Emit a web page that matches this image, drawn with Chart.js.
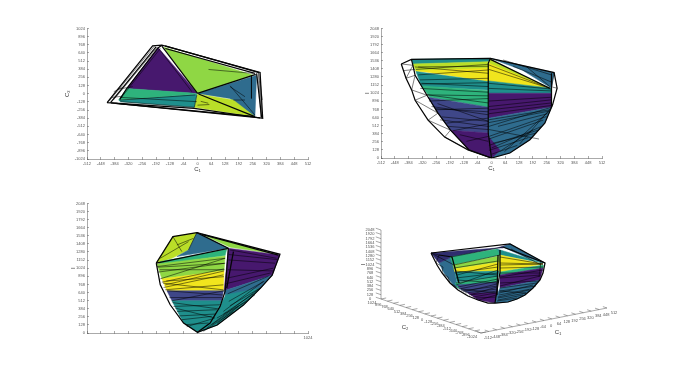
<!DOCTYPE html>
<html>
<head>
<meta charset="utf-8">
<script src="https://cdn.jsdelivr.net/npm/chart.js@4"></script>
<style>
    html, body { margin: 0; padding: 0; background: #fff; }
    canvas { position: absolute; filter: blur(0.25px); }
</style>
</head>
<body>
<canvas id="panelTop"></canvas>
<canvas id="panelFront"></canvas>
<canvas id="panelSide"></canvas>
<canvas id="panelIso"></canvas>
<script>
// tick values
const c1Ticks = [-512, -448, -384, -320, -256, -192, -128, -64, 0, 64, 128, 192, 256, 320, 384, 448, 512];
const c2Ticks = [-1024, -896, -768, -640, -512, -384, -256, -128, 0, 128, 256, 384, 512, 640, 768, 896, 1024];
const iTicks = [0, 128, 256, 384, 512, 640, 768, 896, 1024, 1152, 1280, 1408, 1536, 1664, 1792, 1920, 2048];

// top view, C1 against C2
const topFacets = [
    [[-182, 722], [-328, 81], [0, 5]],
    [[-158, 731], [259, 289], [0, 5]],
    [[0, 5], [274, 289], [266, -362], [150, -75]],
    [[0, -5], [166, -99], [266, -360], [-15, -214]],
    [[-365, -99], [-3, -5], [-15, -214], [-357, -125]],
    [[-328, 81], [-35, 13], [-3, -5], [-365, -99]]
];
const topHeavy = [
    [[-419, -141], [-208, 750], [-165, 761], [290, 333], [302, -386], [-15, -229], [-419, -141]],
    [[-403, -141], [-192, 735]],
    [[-165, 761], [-182, 722], [-328, 81], [-360, -89]],
    [[-149, 709], [266, 318]],
    [[-150, 750], [285, 330]],
    [[0, 5], [270, 302]],
    [[0, 5], [-165, 745]],
    [[5, -5], [266, -360]],
    [[-380, -151], [266, -360]],
    [[-400, -145], [290, -380]],
    [[274, 318], [297, -375]]
];
const topThin = [
    [[-360, -89], [-172, 709]],
    [[-410, -120], [-200, 745]],
    [[-390, -100], [-186, 730]],
    [[-388, 31], [-342, 109]],
    [[-400, -60], [-350, -40]],
    [[-370, 70], [-300, 110]],
    [[282, 328], [294, -375]],
    [[285, 330], [300, -380]],
    [[290, 200], [300, -100]],
    [[-357, -125], [-15, -214]],
    [[-360, -57], [-3, -125]],
    [[-360, -100], [-10, -20]],
    [[-3, -21], [-15, -214]],
    [[-180, 709], [-26, 31]],
    [[151, 125], [266, -334]],
    [[151, 109], [220, -47]],
    [[166, -99], [220, -99]],
    [[250, 290], [250, -75]],
    [[51, 380], [259, 318]],
    [[15, -120], [50, -150]],
    [[0, -180], [55, -170]]
];

// front view, C1 against I
const frontFacets = [
    [[-371, 1559], [-5, 1575], [-15, 1522], [-363, 1486]],
    [[-363, 1486], [-15, 1522], [-15, 1402], [-350, 1365]],
    [[-350, 1381], [-15, 1418], [-15, 1208]],
    [[-350, 1365], [-15, 1208], [-15, 1076], [-324, 1129]],
    [[-324, 1139], [-15, 1066], [-15, 803], [-286, 961]],
    [[-293, 961], [-15, 803], [-15, 394], [-190, 440], [-248, 709]],
    [[-190, 440], [-15, 394], [0, 0], [-105, 130]],
    [[-5, 1575], [290, 1349], [278, 1103], [142, 1391]],
    [[-5, 1559], [270, 1103], [-12, 1486]],
    [[-12, 1496], [270, 1103], [-12, 1218]],
    [[-12, 1218], [278, 1103], [278, 1024], [-12, 1024]],
    [[-12, 1024], [278, 1024], [278, 803], [-12, 630]],
    [[-12, 630], [278, 803], [247, 551], [178, 289], [85, 79], [0, 0], [-12, 394]],
    [[-12, 330], [40, 120], [0, 0]]
];
const frontHeavy = [
    [[-418, 1486], [-371, 1559], [-5, 1575], [290, 1349], [304, 1103], [283, 840], [247, 551], [178, 289], [85, 79], [0, 0]],
    [[-418, 1486], [-396, 1260], [-370, 1076], [-354, 913], [-294, 598], [-217, 330], [-109, 126], [0, 0]],
    [[-5, 1575], [-15, 1496], [-15, 394], [0, 0]],
    [[-371, 1559], [-364, 1465], [-354, 1307], [-299, 992], [-248, 709], [-190, 440], [-105, 130], [0, 0]],
    [[-5, 1559], [270, 1103]],
    [[278, 1339], [278, 803]]
];
const frontThin = [
    [[-418, 1486], [-364, 1465], [-396, 1260], [-354, 1307], [-370, 1076], [-299, 992], [-354, 913], [-248, 709], [-294, 598], [-190, 440], [-217, 330], [-105, 130]],
    [[-410, 1380], [-355, 1400]],
    [[-355, 1439], [-15, 1339]],
    [[-340, 1313], [-15, 1391]],
    [[-324, 1181], [-15, 1129]],
    [[-332, 1234], [-15, 1260]],
    [[-301, 998], [-15, 982]],
    [[-278, 814], [-15, 683]],
    [[-262, 761], [-15, 788]],
    [[-239, 604], [-15, 499]],
    [[-208, 551], [-15, 630]],
    [[-147, 368], [-15, 263]],
    [[-116, 263], [-15, 341]],
    [[-250, 860], [-15, 580]],
    [[-330, 1100], [-15, 1040]],
    [[-300, 1000], [-15, 870]],
    [[-290, 900], [-15, 940]],
    [[-260, 780], [-15, 730]],
    [[-230, 650], [-15, 580]],
    [[-200, 500], [-15, 450]],
    [[-180, 430], [-15, 540]],
    [[-340, 1440], [-15, 1450]],
    [[-350, 1400], [-15, 1480]],
    [[-330, 1170], [-15, 1190]],
    [[-12, 1470], [270, 1103]],
    [[-12, 1400], [270, 1103]],
    [[54, 1549], [278, 1313]],
    [[100, 1450], [278, 1200]],
    [[162, 1444], [270, 1129]],
    [[-12, 1180], [278, 1090]],
    [[-12, 1100], [278, 1060]],
    [[-12, 900], [278, 960]],
    [[-12, 760], [278, 870]],
    [[-12, 700], [278, 830]],
    [[-12, 560], [265, 740]],
    [[-12, 300], [240, 600]],
    [[-12, 200], [215, 440]],
    [[-12, 120], [170, 320]],
    [[0, 60], [120, 200]],
    [[60, 100], [270, 750]],
    [[130, 220], [278, 800]],
    [[-12, 604], [270, 761]],
    [[-12, 341], [255, 656]],
    [[-12, 500], [278, 803]],
    [[0, 158], [232, 499]],
    [[8, 236], [208, 394]],
    [[39, 105], [193, 446]],
    [[-12, 814], [278, 919]],
    [[-12, 450], [220, 300]],
    [[30, 500], [260, 700]],
    [[290, 1349], [278, 1103]],
    [[283, 1120], [304, 1103]]
];

// side view, C2 against I
const sideFacets = [
    [[40, 1559], [748, 1244], [302, 1355]],
    [[-382, 1103], [-228, 1523], [-6, 1586], [-83, 1313], [-237, 1181]],
    [[-6, 1586], [286, 1339], [-191, 1208], [-83, 1313]],
    [[-345, 1129], [271, 1323], [256, 1223], [-360, 1076]],
    [[-376, 1092], [256, 1218], [246, 982], [-330, 856]],
    [[-330, 856], [246, 982], [240, 667], [-283, 667]],
    [[-283, 667], [240, 667], [225, 509], [-237, 509]],
    [[-237, 509], [225, 509], [132, 184], [0, 10], [-129, 158]],
    [[286, 1339], [764, 1234], [692, 913], [246, 667]],
    [[246, 667], [692, 913], [584, 709], [262, 578]],
    [[262, 604], [584, 709], [426, 441], [183, 126], [0, 10], [132, 184]]
];
const sideHeavy = [
    [[-382, 1103], [-228, 1523], [-6, 1586], [764, 1244], [692, 913], [584, 709], [426, 441], [183, 126], [0, 10], [-129, 158], [-253, 446], [-345, 761], [-382, 1103]],
    [[286, 1339], [256, 656], [209, 420], [117, 158], [0, 10]],
    [[-6, 1586], [286, 1339]],
    [[-382, 1103], [286, 1339]],
    [[333, 1286], [271, 709]],
    [[40, 1559], [748, 1230]]
];
const sideThin = [
    [[-376, 1050], [256, 1181]],
    [[-370, 961], [256, 1103]],
    [[-345, 856], [256, 1181]],
    [[-330, 803], [246, 1013]],
    [[-314, 719], [240, 919]],
    [[-299, 683], [240, 761]],
    [[-320, 788], [240, 682]],
    [[-290, 820], [245, 890]],
    [[-300, 760], [245, 980]],
    [[-350, 1000], [250, 1000]],
    [[-370, 1040], [250, 1100]],
    [[-260, 560], [230, 560]],
    [[-230, 480], [200, 380]],
    [[-170, 270], [170, 300]],
    [[-100, 100], [150, 230]],
    [[280, 620], [660, 900]],
    [[290, 500], [620, 820]],
    [[300, 430], [590, 720]],
    [[240, 300], [520, 620]],
    [[180, 150], [380, 420]],
    [[290, 1240], [740, 1160]],
    [[280, 1000], [710, 980]],
    [[265, 780], [680, 950]],
    [[-222, 420], [209, 446]],
    [[-191, 341], [179, 368]],
    [[-145, 210], [132, 263]],
    [[-206, 394], [163, 236]],
    [[-114, 131], [102, 158]],
    [[302, 1313], [733, 1181]],
    [[286, 1155], [718, 1103]],
    [[271, 866], [702, 1024]],
    [[86, 79], [579, 709]],
    [[132, 131], [533, 604]],
    [[179, 236], [456, 499]],
    [[240, 341], [610, 814]],
    [[55, 26], [333, 341]],
    [[-228, 1523], [-145, 1286]],
    [[-6, 1586], [-83, 1313]],
    [[-191, 1391], [-37, 1496]],
    [[-345, 1181], [-83, 1444]],
    [[-283, 667], [240, 600]],
    [[-237, 509], [246, 667]]
];

// angled view, positions are read as they appear on the projection
const isoFacets = [
    [[-42, 70], [-29, 76], [-26, 61], [-24, 48], [-19, 43], [-27, 47], [-37, 60]],
    [[-50, 80], [16, 85], [-29, 76], [-42, 70]],
    [[-31, 76], [16, 84], [19, 78], [-28, 68]],
    [[-28, 68], [18, 77], [19, 71], [-27, 64]],
    [[-27, 64], [19, 71], [18, 62], [-26, 61]],
    [[-26, 61], [18, 62], [17, 56], [-24, 51]],
    [[-26, 50], [16, 56], [16, 51], [-23, 45]],
    [[-24, 48], [16, 51], [16, 38], [-9, 38], [-19, 43]],
    [[-13, 40], [16, 40], [14, 30], [-3, 33]],
    [[16, 85], [29, 89], [22, 85]],
    [[22, 86], [29, 89], [64, 70], [44, 76]],
    [[16, 84], [62, 70], [19, 78]],
    [[19, 78], [62, 69], [19, 61]],
    [[19, 61], [62, 68], [62, 65], [19, 58]],
    [[19, 58], [62, 65], [59, 53], [19, 45]],
    [[19, 45], [59, 53], [52, 45], [44, 38], [36, 34], [27, 31], [14, 30], [16, 38]]
];
const isoHeavy = [
    [[-50, 80], [29, 89], [64, 70], [62, 60], [59, 53], [52, 45], [44, 38], [36, 34], [27, 31], [14, 30], [7, 30], [-3, 33], [-13, 37], [-23, 43], [-31, 50], [-39, 60], [-44, 68], [-50, 80]],
    [[19, 83], [19, 61], [14, 30]],
    [[17, 78], [16, 38]],
    [[-42, 78], [-29, 76], [-22, 50]],
    [[22, 86], [64, 70]]
];
const isoThin = [
    [[-50, 80], [-42, 78], [-45, 70], [-38, 66], [-39, 60], [-33, 56], [-31, 50], [-26, 47], [-23, 43]],
    [[-27, 65], [17, 72]],
    [[-26, 60], [17, 66]],
    [[-25, 55], [17, 60]],
    [[-25, 50], [17, 57]],
    [[-23, 46], [17, 54]],
    [[-20, 42], [17, 47]],
    [[-16, 40], [16, 44]],
    [[-10, 38], [16, 42]],
    [[-5, 35], [15, 36]],
    [[-24, 53], [17, 50]],
    [[-20, 44], [16, 40]],
    [[-26, 62], [17, 58]],
    [[-24, 58], [17, 69]],
    [[-25, 48], [17, 63]],
    [[-22, 44], [17, 52]],
    [[-18, 41], [16, 49]],
    [[-12, 38], [16, 46]],
    [[-8, 36], [15, 40]],
    [[-2, 33], [15, 38]],
    [[19, 70], [62, 69]],
    [[19, 60], [60, 60]],
    [[19, 55], [60, 58]],
    [[19, 50], [58, 52]],
    [[19, 45], [56, 50]],
    [[18, 40], [52, 48]],
    [[17, 36], [48, 43]],
    [[17, 33], [42, 38]],
    [[18, 42], [45, 40]],
    [[19, 65], [62, 66]],
    [[19, 56], [62, 63]],
    [[19, 47], [59, 57]],
    [[19, 42], [55, 47]],
    [[18, 38], [50, 44]],
    [[17, 35], [45, 40]],
    [[16, 32], [36, 35]],
    [[19, 76], [62, 69]],
    [[19, 68], [62, 69]],
    [[30, 84], [60, 68]],
    [[-30, 76], [22, 86]],
    [[-27, 68], [19, 78]],
    [[-50, 80], [-27, 68]],
    [[60, 72], [58, 56]]
];

// colours, same order as the facet lists
const purple = "#47186e", indigo = "#3f4788", blue = "#2f6c8e", teal = "#1f8f8c",
    green = "#2eb37c", lime = "#8fd744", acid = "#bade28", yellow = "#f1e51d", navy = "#2f2d6e";
const topColors = [purple, lime, blue, acid, teal, green];
const frontColors = [teal, acid, yellow, teal, green, indigo, purple, blue, acid, yellow, teal, purple, blue, purple];
const sideColors = [lime, acid, blue, green, lime, yellow, indigo, teal, purple, blue, teal];
const isoColors = [blue, navy, green, lime, yellow, teal, green, indigo, purple, navy, blue, teal, yellow, green, purple, blue];

const axisColor = "#555";
const fontName = "'Liberation Sans', Arial, sans-serif";

function toPoints(list) {
    return list.map(function (p) {
        return { x: p[0], y: p[1] };
    });
}

function getDatasets(facets, colors, heavy, thin) {
    let painted = [];
    facets.forEach(function (facet, i) {
        painted.push({
            data: toPoints(facet.concat([facet[0]])),
            showLine: true,
            fill: "shape",
            backgroundColor: colors[i],
            borderColor: colors[i],
            borderWidth: 0.5,
            pointRadius: 0
        });
    });
    for (let line of thin) {
        painted.push({ data: toPoints(line), showLine: true, fill: false, borderColor: "rgba(0,0,0,0.85)", borderWidth: 0.6, pointRadius: 0 });
    }
    for (let line of heavy) {
        painted.push({ data: toPoints(line), showLine: true, fill: false, borderColor: "#050505", borderWidth: 1.25, pointRadius: 0 });
    }
    // the chart paints the first dataset last
    return painted.reverse();
}

function getAxis(ticks, labelFor, titleText, afterFit) {
    return {
        type: "linear",
        min: ticks[0],
        max: ticks[ticks.length - 1],
        afterBuildTicks: function (scale) {
            scale.ticks = ticks.map(function (v) { return { value: v }; });
        },
        afterFit: afterFit,
        grid: { drawOnChartArea: false, tickLength: -2, color: axisColor, lineWidth: 0.5 },
        border: { color: axisColor, width: 0.5 },
        ticks: {
            autoSkip: false,
            maxRotation: 0,
            minRotation: 0,
            padding: 4,
            color: "#555",
            font: { family: fontName, size: 4 },
            callback: labelFor
        },
        title: {
            display: titleText !== "",
            text: titleText,
            color: "#333",
            padding: 0,
            font: { family: fontName, size: 6 }
        }
    };
}

function printPanel(elId, box, facets, colors, heavy, thin, xTicks, yTicks, xLabel, xTitle, yTitle) {
    const el = document.getElementById(elId);
    const padTop = 6, padRight = 18, xRoom = 14;
    el.width = box.gutter + box.w + padRight;
    el.height = padTop + box.h + xRoom;
    el.style.left = (box.x - box.gutter) + "px";
    el.style.top = (box.y - padTop) + "px";
    return new Chart(el.getContext("2d"), {
        type: "scatter",
        data: { datasets: getDatasets(facets, colors, heavy, thin) },
        options: {
            responsive: false,
            animation: false,
            layout: { padding: { top: padTop, right: padRight, left: 0, bottom: 0 } },
            plugins: { legend: { display: false }, tooltip: { enabled: false } },
            scales: {
                x: getAxis(xTicks, xLabel, xTitle, function (s) { s.height = xRoom; }),
                y: getAxis(yTicks, function (v) { return String(v); }, yTitle, function (s) { s.width = box.gutter; })
            }
        }
    });
}

const plainLabel = function (v) { return String(v); };

printPanel("panelTop", { x: 87, y: 28, w: 221, h: 131, gutter: 23 }, topFacets, topColors, topHeavy, topThin,
    c1Ticks, c2Ticks, plainLabel, "C₁", "C₂");
printPanel("panelFront", { x: 381, y: 28, w: 221, h: 130, gutter: 17 }, frontFacets, frontColors, frontHeavy, frontThin,
    c1Ticks, iTicks, plainLabel, "C₁", "I");
printPanel("panelSide", { x: 87, y: 203, w: 221, h: 130, gutter: 17 }, sideFacets, sideColors, sideHeavy, sideThin,
    c2Ticks, iTicks, function (v) { return v === 1024 ? "1024" : ""; }, "", "I");

// angled view: the axes go through a small projection of (C1, C2, I)
function project(c1, c2, i) {
    const along1 = (c1 + 512) / 1024;
    const along2 = (1024 - c2) / 2048;
    return [
        -100 * (1 - along2) + 126 * along1,
        34 * (1 - along2) + 25 * along1 + i / 2048 * 69
    ];
}

function printIso() {
    const el = document.getElementById("panelIso");
    el.width = 280;
    el.height = 125;
    el.style.left = "355px";
    el.style.top = "220px";

    let axisLines = [];
    axisLines.push([project(-512, 1024, 0), project(-512, 1024, 2048)]);
    axisLines.push([project(-512, 1024, 0), project(-512, -1024, 0)]);
    axisLines.push([project(-512, -1024, 0), project(512, -1024, 0)]);
    for (let v of iTicks) axisLines.push([project(-512, 1024, v), project(-512, 1130, v)]);
    for (let v of c2Ticks) axisLines.push([project(-512, v, 0), project(-470, v, 0)]);
    for (let v of c1Ticks) axisLines.push([project(v, -1024, 0), project(v, -940, 0)]);

    let datasets = getDatasets(isoFacets, isoColors, isoHeavy, isoThin);
    for (let line of axisLines) {
        datasets.push({ data: toPoints(line), showLine: true, fill: false, borderColor: axisColor, borderWidth: 0.5, pointRadius: 0 });
    }

    const axisText = {
        id: "axisText",
        afterDatasetsDraw: function (chart) {
            const ctx = chart.ctx, sx = chart.scales.x, sy = chart.scales.y;
            function put(text, p, dx, dy) {
                ctx.fillText(text, sx.getPixelForValue(p[0]) + dx, sy.getPixelForValue(p[1]) + dy);
            }
            ctx.save();
            ctx.fillStyle = "#555";
            ctx.font = "4px " + fontName;
            ctx.textAlign = "center";
            ctx.textBaseline = "middle";
            for (let v of iTicks) put(String(v), project(-512, 1024, v), -11, 0);
            for (let v of c2Ticks) put(String(v), project(-512, v, 0), -9, 4);
            for (let v of c1Ticks) put(String(v), project(v, -1024, 0), 7, 5);
            ctx.fillStyle = "#333";
            ctx.font = "6px " + fontName;
            put("C₁", project(0, -1024, 0), 14, 12);
            put("C₂", project(-512, 0, 0), -26, 11);
            const p = project(-512, 1024, 1024);
            ctx.translate(sx.getPixelForValue(p[0]) - 18, sy.getPixelForValue(p[1]));
            ctx.rotate(-Math.PI / 2);
            ctx.fillText("I", 0, 0);
            ctx.restore();
        }
    };

    return new Chart(el.getContext("2d"), {
        type: "scatter",
        data: { datasets: datasets },
        options: {
            responsive: false,
            animation: false,
            layout: { padding: 0 },
            plugins: { legend: { display: false }, tooltip: { enabled: false } },
            scales: {
                x: { type: "linear", display: false, min: -126, max: 154 },
                y: { type: "linear", display: false, min: -12, max: 113 }
            }
        },
        plugins: [axisText]
    });
}

printIso();
</script>
</body>
</html>
